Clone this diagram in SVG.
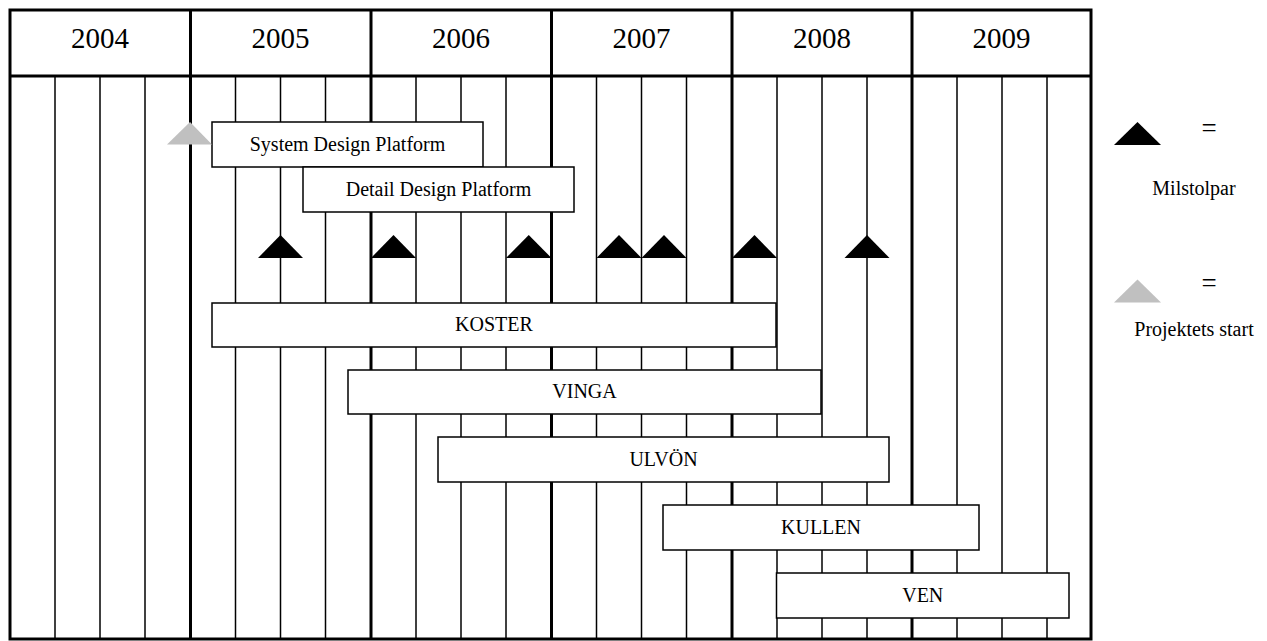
<svg xmlns="http://www.w3.org/2000/svg" width="1267" height="641" viewBox="0 0 1267 641">
<style>
text{font-family:"Liberation Serif","Times New Roman",serif;fill:#000;}
.yr{font-size:29px;text-anchor:middle;}
.lbl{font-size:20px;text-anchor:middle;}
.eq{font-size:27px;text-anchor:middle;}
.thick{stroke:#000;stroke-width:3;fill:none;}
.thin{stroke:#000;stroke-width:1.5;fill:none;}
.box{fill:#fff;stroke:#000;stroke-width:1.5;}
.ms{fill:#000;}
.st{fill:#c0c0c0;}
</style>
<rect width="1267" height="641" fill="#fff"/>
<g id="grid">
<g class="thin">
<line x1="55" y1="76" x2="55" y2="639"/>
<line x1="100" y1="76" x2="100" y2="639"/>
<line x1="145" y1="76" x2="145" y2="639"/>
<line x1="235.5" y1="76" x2="235.5" y2="639"/>
<line x1="280.5" y1="76" x2="280.5" y2="639"/>
<line x1="325.5" y1="76" x2="325.5" y2="639"/>
<line x1="416" y1="76" x2="416" y2="639"/>
<line x1="461" y1="76" x2="461" y2="639"/>
<line x1="506" y1="76" x2="506" y2="639"/>
<line x1="596.5" y1="76" x2="596.5" y2="639"/>
<line x1="641.5" y1="76" x2="641.5" y2="639"/>
<line x1="686.5" y1="76" x2="686.5" y2="639"/>
<line x1="777" y1="76" x2="777" y2="639"/>
<line x1="822" y1="76" x2="822" y2="639"/>
<line x1="867" y1="76" x2="867" y2="639"/>
<line x1="957" y1="76" x2="957" y2="639"/>
<line x1="1002" y1="76" x2="1002" y2="639"/>
<line x1="1047" y1="76" x2="1047" y2="639"/>
</g>
<g class="thick">
<rect x="10" y="10" width="1081" height="629"/>
<line x1="10" y1="76" x2="1091" y2="76"/>
<line x1="190.5" y1="10" x2="190.5" y2="639"/>
<line x1="371" y1="10" x2="371" y2="639"/>
<line x1="551.5" y1="10" x2="551.5" y2="639"/>
<line x1="732" y1="10" x2="732" y2="639"/>
<line x1="912" y1="10" x2="912" y2="639"/>
</g>
</g>
<g id="years">
<text class="yr" x="100" y="48">2004</text>
<text class="yr" x="280.5" y="48">2005</text>
<text class="yr" x="461" y="48">2006</text>
<text class="yr" x="641.5" y="48">2007</text>
<text class="yr" x="822" y="48">2008</text>
<text class="yr" x="1001.5" y="48">2009</text>
</g>
<g id="sdp"><rect class="box" x="212" y="122" width="271" height="45"/><text class="lbl" x="347.5" y="151">System Design Platform</text></g>
<g id="ddp"><rect class="box" x="303" y="167" width="271" height="45"/><text class="lbl" x="438.5" y="196">Detail Design Platform</text></g>
<g id="koster"><rect class="box" x="212" y="303" width="564" height="44"/><text class="lbl" x="494" y="331">KOSTER</text></g>
<g id="vinga"><rect class="box" x="348" y="370" width="473" height="44"/><text class="lbl" x="584.5" y="398">VINGA</text></g>
<g id="ulvon"><rect class="box" x="438" y="437" width="451" height="45"/><text class="lbl" x="663.5" y="466">ULVÖN</text></g>
<g id="kullen"><rect class="box" x="663" y="505" width="316" height="45"/><text class="lbl" x="821" y="534">KULLEN</text></g>
<g id="ven"><rect class="box" x="776.5" y="573" width="292.5" height="45"/><text class="lbl" x="922.75" y="602">VEN</text></g>
<g id="start"><polygon class="st" points="167,144.5 190,122 212,144.5"/></g>
<g id="milestones">
<polygon class="ms" points="258,258 280.5,235 303,258"/>
<polygon class="ms" points="371,258 393.5,235 416,258"/>
<polygon class="ms" points="506,258 528.75,235 551.5,258"/>
<polygon class="ms" points="596.5,258 619,235 641.5,258"/>
<polygon class="ms" points="641.5,258 664,235 686.5,258"/>
<polygon class="ms" points="732,258 754.5,235 777,258"/>
<polygon class="ms" points="844.5,258 867,235 889.5,258"/>
</g>
<g id="legend">
<polygon class="ms" points="1114,145 1137.5,122 1161,145"/>
<text class="eq" x="1209" y="137">=</text>
<text class="lbl" x="1194" y="195">Milstolpar</text>
<polygon class="st" points="1114,302.5 1137.5,279.5 1161,302.5"/>
<text class="eq" x="1209" y="292">=</text>
<text class="lbl" x="1194" y="336">Projektets start</text>
</g>
</svg>
